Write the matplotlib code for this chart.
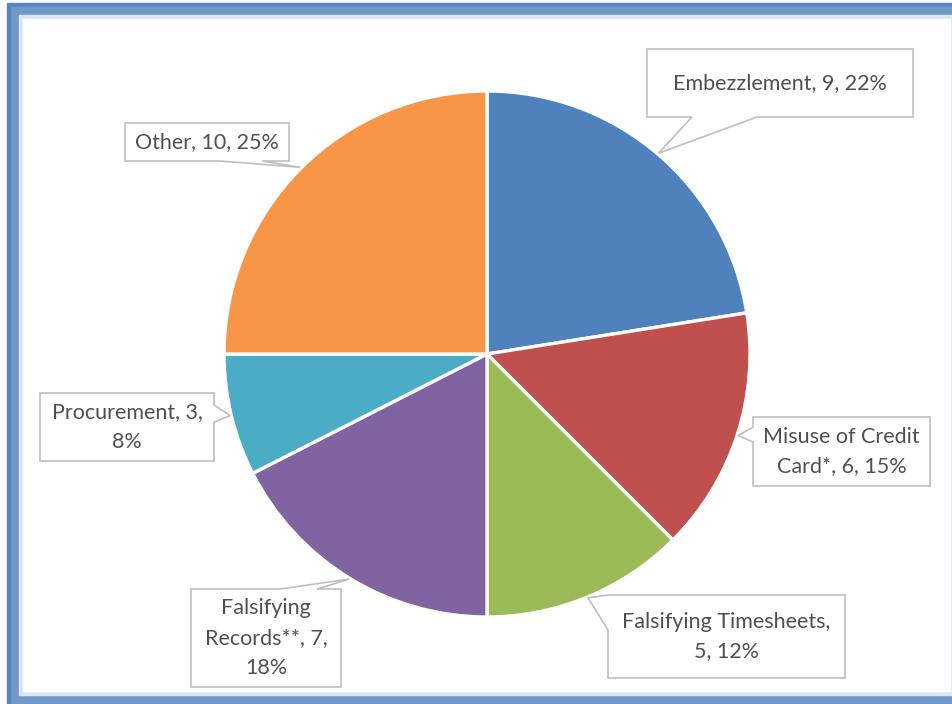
import matplotlib

matplotlib.use("Agg")
import matplotlib.pyplot as plt
from matplotlib.patches import Polygon, Rectangle
import numpy as np

W, H = 953, 704

categories = ["Embezzlement", "Misuse of Credit Card*", "Falsifying Timesheets",
              "Falsifying Records**", "Procurement", "Other"]
values = [9, 6, 5, 7, 3, 10]
labels = [
    "Embezzlement, 9, 22%",
    "Misuse of Credit\nCard*, 6, 15%",
    "Falsifying Timesheets,\n5, 12%",
    "Falsifying\nRecords**, 7,\n18%",
    "Procurement, 3,\n8%",
    "Other, 10, 25%",
]
colors = ["#4F81BD", "#C0504D", "#9BBB59", "#8064A2", "#4BACC6", "#F79646"]

# callout boxes in pixel coords (x0, y0, x1, y1), pointer edge and base span
callouts = [
    ((647, 49, 913, 117), "bottom", (692, 757)),
    ((753, 417, 930, 486), "left", (427, 442)),
    ((608, 595, 845, 678), "left", (595, 630)),
    ((191, 589, 341, 687), "top", (280, 317)),
    ((40, 393, 214, 461), "right", (405, 422)),
    ((125, 123, 289, 161), "bottom", (220, 262)),
]

CENTER = (487, 354)
RADIUS = 263


def fy(y):
    """pixel y (top-down) to data y."""
    return H - y


def callout_poly(box, edge, base, tip):
    x0, y0, x1, y1 = box
    b1, b2 = base
    pts = [(x0, y0)]
    if edge == "top":
        pts += [(b1, y0), tip, (b2, y0)]
    pts.append((x1, y0))
    if edge == "right":
        pts += [(x1, b1), tip, (x1, b2)]
    pts.append((x1, y1))
    if edge == "bottom":
        pts += [(b2, y1), tip, (b1, y1)]
    pts.append((x0, y1))
    if edge == "left":
        pts += [(x0, b2), tip, (x0, b1)]
    return [(x, fy(y)) for x, y in pts]


fig = plt.figure(figsize=(W / 100, H / 100), dpi=100)
ax = fig.add_axes([0, 0, 1, 1])
ax.set_xlim(0, W)
ax.set_ylim(0, H)
ax.set_aspect("equal")
ax.axis("off")

# frame
ax.add_patch(Rectangle((7, 0), W, fy(3), color="#5A86BF", zorder=0))
ax.add_patch(Rectangle((11, 0), W, fy(7), color="#7098C8", zorder=0))
ax.add_patch(Rectangle((19, fy(695)), W, 695 - 15, color="#DCE6F2", zorder=0))
ax.add_patch(Rectangle((23, fy(691)), 950 - 23, 691 - 19, color="white", zorder=0))

wedges, _ = ax.pie(values, colors=colors, startangle=90, counterclock=False,
                   center=(CENTER[0], fy(CENTER[1])), radius=RADIUS,
                   wedgeprops=dict(edgecolor="white", linewidth=2.4))
ax.set_xlim(0, W)
ax.set_ylim(0, H)

for w, lab, (box, edge, base) in zip(wedges, labels, callouts):
    mid = np.deg2rad((w.theta1 + w.theta2) / 2)
    r = RADIUS + 1
    tip = (CENTER[0] + r * np.cos(mid), CENTER[1] - r * np.sin(mid))
    poly = Polygon(callout_poly(box, edge, base, tip), closed=True, facecolor="white",
                   edgecolor="#BFBFBF", linewidth=1.2, zorder=5)
    ax.add_patch(poly)
    x0, y0, x1, y1 = box
    ax.text((x0 + x1) / 2, fy((y0 + y1) / 2), lab, ha="center", va="center",
            multialignment="center", fontsize=15.5, family="Lato", color="#505050",
            linespacing=1.62, zorder=6)

fig.savefig("out.png", dpi=100)
